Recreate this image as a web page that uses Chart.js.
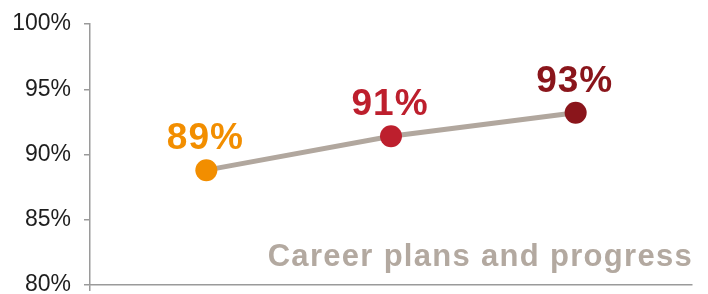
<!DOCTYPE html>
<html>
<head>
<meta charset="utf-8">
<script src="https://cdn.jsdelivr.net/npm/chart.js@4"></script>
<style>
  html, body { margin: 0; padding: 0; background: #fff; overflow: hidden; }
  #wrap { width: 708px; height: 294px; }
</style>
</head>
<body>
<div id="wrap"><canvas id="chart" width="708" height="294"></canvas></div>
<script>
  var positions = [0, 1, 2];
  var values = [88.8, 91.4, 93.2];
  var valueLabels = ['89%', '91%', '93%'];
  var pointColors = ['#f28e00', '#bd1f2d', '#8a151b'];
  var yTicks = [80, 85, 90, 95, 100];
  var caption = 'Career plans and progress';

  var FONT = '"Liberation Sans", Arial, Helvetica, sans-serif';

  var labelPlugin = {
    id: 'pointLabels',
    afterDatasetsDraw: function(chart) {
      var ctx = chart.ctx;
      var meta = chart.getDatasetMeta(0);
      ctx.save();
      ctx.font = 'bold 37px ' + FONT;
      ctx.letterSpacing = '1px';
      ctx.textAlign = 'center';
      ctx.textBaseline = 'alphabetic';
      meta.data.forEach(function(pt, i) {
        ctx.fillStyle = pointColors[i];
        ctx.fillText(valueLabels[i], pt.x - 1, pt.y - 21);
      });
      // caption in the lower right corner of the plot
      var area = chart.chartArea;
      ctx.font = 'bold 31px ' + FONT;
      ctx.letterSpacing = '1.3px';
      ctx.textAlign = 'right';
      ctx.fillStyle = '#b3a9a0';
      ctx.fillText(caption, area.right + 1, area.bottom - 19);
      ctx.restore();
    }
  };

  new Chart(document.getElementById('chart').getContext('2d'), {
    type: 'line',
    data: {
      datasets: [{
        data: positions.map(function(x, i) { return { x: x, y: values[i] }; }),
        borderColor: '#b1a79e',
        borderWidth: 5,
        pointRadius: 11,
        pointHoverRadius: 11,
        pointBorderWidth: 0,
        pointBackgroundColor: pointColors,
        tension: 0,
        clip: false
      }]
    },
    options: {
      responsive: false,
      animation: false,
      layout: { autoPadding: false, padding: { top: 24, right: 16, bottom: 9, left: 0 } },
      plugins: { legend: { display: false }, tooltip: { enabled: false } },
      scales: {
        x: {
          type: 'linear',
          min: -0.63,
          max: 2.63,
          afterBuildTicks: function(s) { s.ticks = [{ value: s.min }]; },
          ticks: { display: false },
          grid: { drawOnChartArea: false, drawTicks: true, tickLength: 6, color: '#9a9a9a', lineWidth: 1.5 },
          border: { color: '#9a9a9a', width: 1.5 },
          afterFit: function(s) { s.height = 0; s.paddingLeft = 0; s.paddingRight = 0; }
        },
        y: {
          min: 80,
          max: 100,
          afterBuildTicks: function(s) { s.ticks = yTicks.map(function(v) { return { value: v }; }); },
          ticks: {
            padding: 13,
            color: '#1e1e1e',
            font: { family: FONT, size: 23, lineHeight: 0.5 },
            callback: function(v) { return v + '%'; }
          },
          grid: { drawOnChartArea: false, drawTicks: true, tickLength: 6, color: '#9a9a9a', lineWidth: 1.5 },
          border: { color: '#9a9a9a', width: 1.5 },
          afterFit: function(s) { s.width = 90; s.paddingTop = 0; s.paddingBottom = 0; }
        }
      }
    },
    plugins: [labelPlugin]
  });
</script>
</body>
</html>
